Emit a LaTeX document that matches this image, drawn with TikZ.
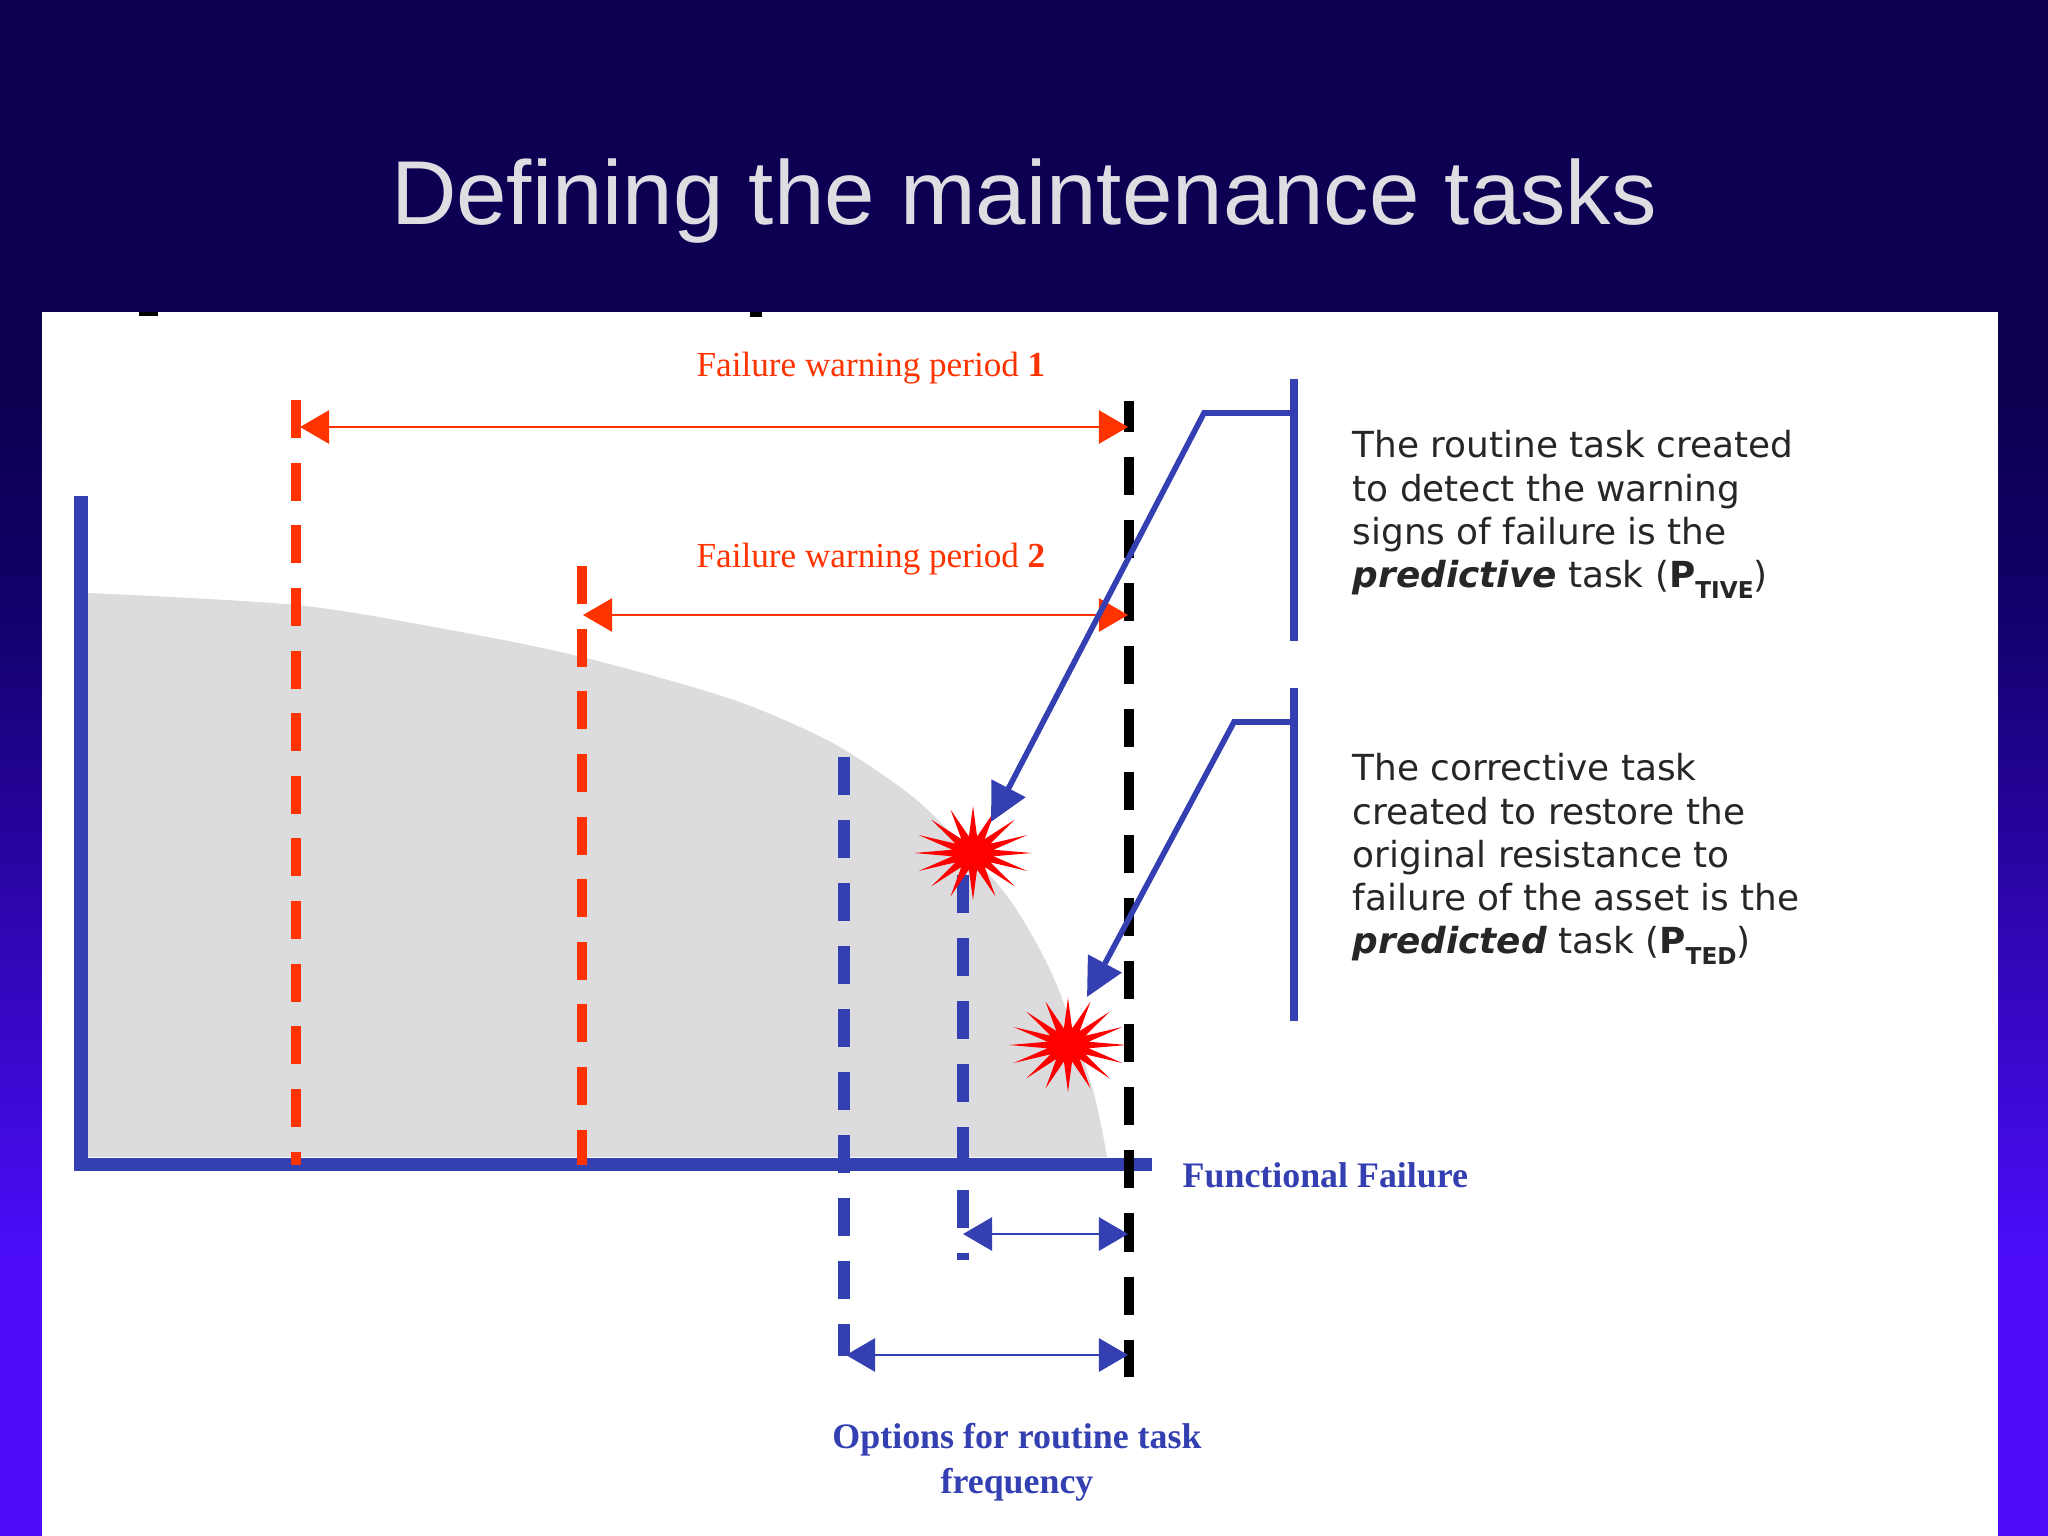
\documentclass[tikz,border=0pt]{standalone}
\usepackage{fontspec}
\setmainfont{Liberation Serif}
\newfontfamily\titlefont{Liberation Sans}
\newfontfamily\notefont{DejaVu Sans}
\usetikzlibrary{arrows.meta}
\usetikzlibrary{shapes.geometric}
\definecolor{slidetop}{RGB}{13,0,82}
\definecolor{slidemid}{RGB}{17,0,105}
\definecolor{slidebot}{RGB}{76,12,250}
\definecolor{taskblue}{RGB}{52,64,178}
\definecolor{warnred}{RGB}{255,51,0}
\definecolor{wearfill}{RGB}{220,219,221}
\definecolor{titlegrey}{RGB}{222,222,226}
\pgfdeclareverticalshading{slideback}{100bp}{
  color(0bp)=(slidebot); color(34bp)=(slidebot); color(55.5bp)=(slidemid); color(62bp)=(slidetop); color(100bp)=(slidetop)}
\newcommand{\lowtag}[1]{\raisebox{-0.55ex}{\fontsize{6.6}{7}\selectfont\textbf{#1}}}
\begin{document}
\begin{tikzpicture}[x = 0.01cm, y = -0.01cm,
                    dashline/.style = {dash pattern = on 0.38cm off 0.25cm, line cap = butt},
                    redline/.style = {dash pattern = on 0.38cm off 0.246cm, draw = warnred, line width = 2.9pt},
                    blueline/.style = {dashline, draw = taskblue, line width = 3.2pt},
                    blackline/.style = {dashline, dash phase = 0.07cm, draw = black, line width = 2.9pt},
                    redspan/.style = {draw = warnred, line width = 0.7pt, {Triangle[length = 0.29cm, width = 0.33cm]}-{Triangle[length = 0.29cm, width = 0.33cm]}},
                    bluespan/.style = {draw = taskblue, line width = 0.8pt, {Triangle[length = 0.29cm, width = 0.33cm]}-{Triangle[length = 0.29cm, width = 0.33cm]}},
                    pointer/.style = {draw = taskblue, line width = 1.6pt, -{Triangle[length = 0.38cm, width = 0.37cm]}},
                    bar/.style = {draw = taskblue, line width = 2pt},
                    burst/.style = {star, star points = 16, star point ratio = 2.8, fill = red, inner sep = 0pt, minimum size = 0.94cm, transform shape, xscale = 1.25},
                    redlabel/.style = {text = warnred, font = \fontsize{10}{12}\selectfont},
                    bluelabel/.style = {text = taskblue, font = \fontsize{10.2}{12.8}\selectfont\bfseries, align = center},
                    note/.style = {anchor = north west, inner sep = 0pt, align = left, text = black!85, font = \notefont\fontsize{10.2}{12.3}\selectfont}]
      \useasboundingbox (0, 0) rectangle (2048, 1536);
      \shade [shading = slideback] (0, 0) rectangle (2048, 1536);
      \fill [white] (42, 312) rectangle (1998, 1536);
      \fill [black] (139, 312) rectangle (158, 316);
      \fill [black] (750, 312) rectangle (762, 317);
      \node [text = titlegrey, font = \titlefont\fontsize{25.8}{30}\selectfont] (title) at (1024, 201){Defining the maintenance tasks};
      \fill [wearfill] plot [smooth] coordinates {(87, 593) (296, 605) (450, 630) (582, 657) (731, 699) (827, 740) (893, 782) (933, 815) (1000, 887) (1033, 937) (1060, 993) (1093, 1090) (1107, 1157)} -- (87, 1157) -- cycle;
      \coordinate (r1t) at (296, 400);
      \coordinate (r1b) at (296, 1165);
      \coordinate (r2t) at (582, 566);
      \coordinate (r2b) at (582, 1165);
      \coordinate (b1t) at (844, 757);
      \coordinate (b1b) at (844, 1356);
      \coordinate (b2t) at (963, 875);
      \coordinate (b2b) at (963, 1260);
      \coordinate (kt) at (1129, 401);
      \coordinate (kb) at (1129, 1377);
      \coordinate (orig) at (81, 1164);
      \coordinate (ytop) at (81, 496);
      \coordinate (xend) at (1152, 1164);
      \draw [draw = taskblue, line width = 3.7pt] (ytop) -- (orig) -- (xend);
      \draw [redline] (r1t) -- (r1b);
      \draw [redline] (r2t) -- (r2b);
      \draw [blueline] (b1t) -- (b1b);
      \draw [blueline] (b2t) -- (b2b);
      \draw [blackline] (kt) -- (kb);
      \coordinate (s1l) at (300, 427);
      \coordinate (s1r) at (1128, 427);
      \coordinate (s2l) at (583, 615);
      \coordinate (s2r) at (1128, 615);
      \coordinate (o1l) at (963, 1234);
      \coordinate (o1r) at (1128, 1234);
      \coordinate (o2l) at (846, 1355);
      \coordinate (o2r) at (1128, 1355);
      \draw [redspan] (s1l) -- (s1r);
      \draw [redspan] (s2l) -- (s2r);
      \draw [bluespan] (o1l) -- (o1r);
      \draw [bluespan] (o2l) -- (o2r);
      \node [burst] (s1) at (973, 853){};
      \node [burst] (s2) at (1068, 1045){};
      \coordinate (p1a) at (1294, 413);
      \coordinate (p1b) at (1204, 413);
      \coordinate (p1c) at (991, 822);
      \coordinate (p2a) at (1294, 722);
      \coordinate (p2b) at (1234, 722);
      \coordinate (p2c) at (1087, 997);
      \draw [pointer] (p1a) -- (p1b) -- (p1c);
      \draw [pointer] (p2a) -- (p2b) -- (p2c);
      \coordinate (v1t) at (1294, 379);
      \coordinate (v1b) at (1294, 641);
      \coordinate (v2t) at (1294, 688);
      \coordinate (v2b) at (1294, 1021);
      \draw [bar] (v1t) -- (v1b);
      \draw [bar] (v2t) -- (v2b);
      \node [redlabel] (l1) at (871, 368){Failure warning period \textbf{1}};
      \node [redlabel] (l2) at (871, 559){Failure warning period \textbf{2}};
      \node [bluelabel, anchor = west, inner sep = 0pt] (ff) at (1182, 1175){Functional Failure};
      \node [bluelabel] (opt) at (1017, 1462){Options for routine task\\frequency};
      \node [note] (n1) at (1352, 430){The routine task created\\to detect the warning\\signs of failure is the\\\textbf{\textit{predictive}} task (\textbf{P}\lowtag{TIVE})};
      \node [note] (n2) at (1352, 753){The corrective task\\created to restore the\\original resistance to\\failure of the asset is the\\\textbf{\textit{predicted}} task (\textbf{P}\lowtag{TED})};
    \end{tikzpicture}
\end{document}
